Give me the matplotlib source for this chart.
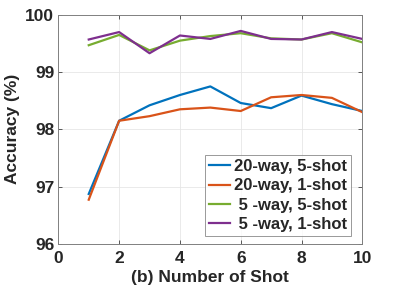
import numpy as np
import matplotlib
matplotlib.use("Agg")
import matplotlib.pyplot as plt

plt.rcParams['font.family'] = ['Liberation Sans', 'DejaVu Sans']
plt.rcParams['font.weight'] = 'bold'

# data
shots = [1, 2, 3, 4, 5, 6, 7, 8, 9, 10]
acc_20w5s = [96.87, 98.15, 98.42, 98.60, 98.75, 98.46, 98.37, 98.59, 98.44, 98.32]
acc_20w1s = [96.77, 98.15, 98.23, 98.35, 98.38, 98.32, 98.56, 98.60, 98.55, 98.30]
acc_5w5s = [99.47, 99.65, 99.38, 99.55, 99.63, 99.68, 99.59, 99.57, 99.68, 99.52]
acc_5w1s = [99.57, 99.70, 99.33, 99.64, 99.58, 99.72, 99.58, 99.57, 99.70, 99.58]

labels = ['20-way, 5-shot', '20-way, 1-shot', ' 5 -way, 5-shot', ' 5 -way, 1-shot']
colors = ['#0072BD', '#D95319', '#77AC30', '#7E2F8E']
xticks = [0, 2, 4, 6, 8, 10]
yticks = [96, 97, 98, 99, 100]

fig = plt.figure(figsize=(4.01, 2.98), dpi=100)
ax = fig.add_axes([0.1455, 0.182, 0.758, 0.768])

for ys, lab, c in zip([acc_20w5s, acc_20w1s, acc_5w5s, acc_5w1s], labels, colors):
    ax.plot(shots, ys, color=c, lw=1.6, label=lab)

ax.set_xlim(0, 10)
ax.set_ylim(96, 100)
ax.set_xticks(xticks)
ax.set_yticks(yticks)
ax.tick_params(direction='in', top=True, right=True, labelsize=12.5, length=3,
               color='#404040', width=0.6)
ax.tick_params(axis='x', pad=5)
ax.tick_params(axis='y', pad=3)
for s in ax.spines.values():
    s.set_color('#808080')
    s.set_linewidth(0.7)
ax.grid(True, color='#e6e6e6', lw=0.6)
ax.set_axisbelow(True)

ax.set_xlabel('(b) Number of Shot', fontsize=12.5, fontweight='bold', color='#262626', labelpad=3)
ax.set_ylabel('Accuracy (%)', fontsize=12.5, fontweight='bold', color='#262626', labelpad=4)
for t in ax.get_xticklabels() + ax.get_yticklabels():
    t.set_fontweight('bold')
    t.set_color('#262626')

leg = ax.legend(loc='lower right', bbox_to_anchor=(0.975, 0.02), fontsize=12,
                frameon=True, fancybox=False, handlelength=1.25, handletextpad=0.25,
                borderpad=0.25, labelspacing=0.25, borderaxespad=0.2)
leg.get_frame().set_edgecolor('#808080')
leg.get_frame().set_linewidth(0.7)
for t in leg.get_texts():
    t.set_fontweight('bold')
    t.set_color('#262626')

fig.savefig('out.png', dpi=100)
